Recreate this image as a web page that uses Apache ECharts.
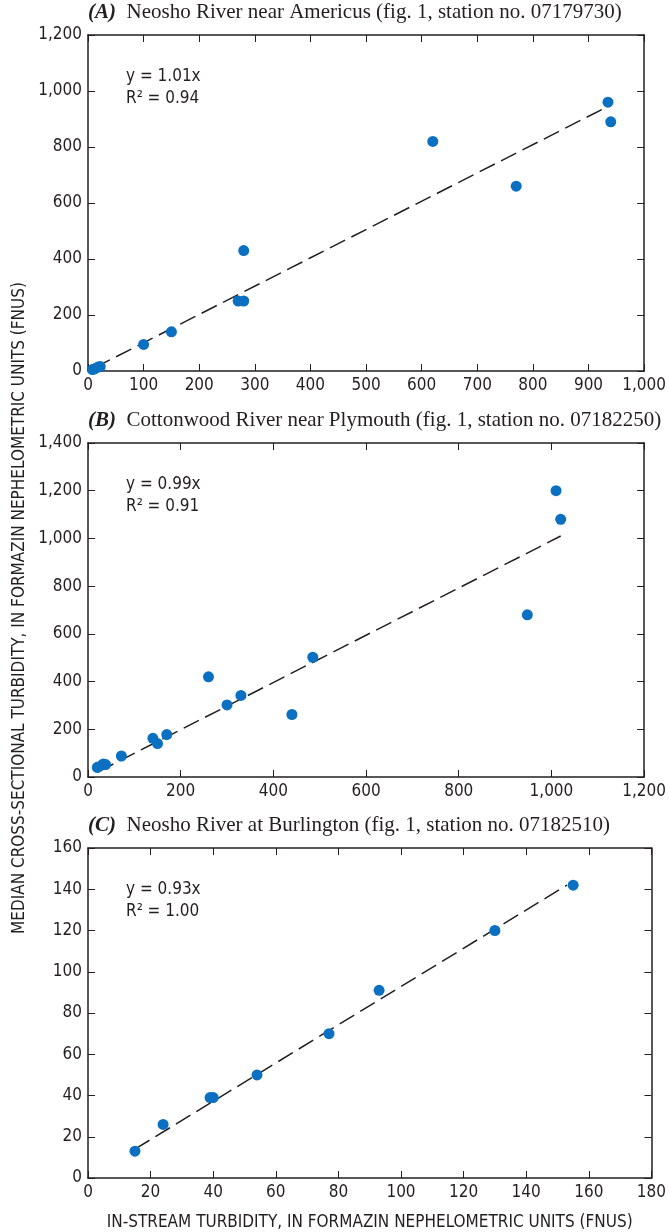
<!DOCTYPE html>
<html>
<head>
<meta charset="utf-8">
<script src="https://cdn.jsdelivr.net/npm/echarts@6/dist/echarts.min.js"></script>
<style>
  html, body { margin: 0; padding: 0; background: #fff; }
  #chart { width: 669px; height: 1232px; }
</style>
</head>
<body>
<div id="chart"></div>
<script>
// panel A - Neosho River near Americus
let pointsA = [
  [8, 5], [12, 8], [18, 14], [22, 16], [100, 95], [150, 140],
  [270, 250], [280, 250], [280, 430], [620, 820], [770, 660],
  [935, 960], [940, 890]
]
let fitA = [[12, 12], [940, 950]]

// panel B - Cottonwood River near Plymouth
let pointsB = [
  [20, 40], [22, 42], [33, 55], [38, 52], [72, 88], [140, 162],
  [150, 140], [170, 178], [260, 420], [300, 302], [330, 342],
  [440, 262], [485, 502], [948, 680], [1010, 1200], [1020, 1080]
]
let fitB = [[22, 22], [1020, 1010]]

// panel C - Neosho River at Burlington
let pointsC = [
  [15, 13], [24, 26], [39, 39], [40, 39], [54, 50], [77, 70],
  [93, 91], [130, 120], [155, 142]
]
let fitC = [[15, 14], [153, 142]]

let titles = [
  ['(A)', 'Neosho River near Americus (fig. 1, station no. 07179730)'],
  ['(B)', 'Cottonwood River near Plymouth (fig. 1, station no. 07182250)'],
  ['(C)', 'Neosho River at Burlington (fig. 1, station no. 07182510)']
]
let equations = [
  ['y = 1.01x', 'R² = 0.94'],
  ['y = 0.99x', 'R² = 0.91'],
  ['y = 0.93x', 'R² = 1.00']
]
let xRanges = [[0, 1000, 100], [0, 1200, 200], [0, 180, 20]]
let yRanges = [[0, 1200, 200], [0, 1400, 200], [0, 160, 20]]

let yTitle = 'MEDIAN CROSS-SECTIONAL TURBIDITY, IN FORMAZIN NEPHELOMETRIC UNITS (FNUS)'
let xTitle = 'IN-STREAM TURBIDITY, IN FORMAZIN NEPHELOMETRIC UNITS (FNUS)'

let narrow = "'Liberation Sans Narrow', 'DejaVu Sans Condensed', sans-serif"
  , serif = "'Liberation Serif', 'DejaVu Serif', serif"
  , dotColor = '#0b70c2'
  , grids = [
    { left: 88, right: 17, top: 35, height: 336 },
    { left: 88, right: 17, top: 443, height: 334 },
    { left: 88, right: 17, top: 848, height: 336 }
  ]

function fmt(v) {
  return String(v).replace(/\B(?=(\d{3})+(?!\d))/g, ',')
}

function axisBase(range, i, pos, withLabel) {
  return {
    type: 'value',
    gridIndex: i,
    position: pos,
    min: range[0],
    max: range[1],
    interval: range[2],
    splitLine: { show: false },
    axisLine: { show: true, onZero: false, lineStyle: { color: '#231f20', width: 1.5 } },
    axisTick: { show: true, inside: true, length: 7, lineStyle: { color: '#231f20', width: 1 } },
    axisLabel: {
      show: withLabel,
      formatter: fmt,
      color: '#231f20',
      fontFamily: narrow,
      fontSize: 17,
      margin: 6
    }
  }
}

let xAxes = [], yAxes = [], series = [], titleArr = [], graphics = []
let allPoints = [pointsA, pointsB, pointsC]
  , allFits = [fitA, fitB, fitC]

grids.forEach((g, i) => {
  xAxes.push(axisBase(xRanges[i], i, 'bottom', true))
  xAxes.push(axisBase(xRanges[i], i, 'top', false))
  yAxes.push(axisBase(yRanges[i], i, 'left', true))
  yAxes.push(axisBase(yRanges[i], i, 'right', false))

  series.push({
    type: 'line',
    xAxisIndex: i * 2,
    yAxisIndex: i * 2,
    data: allFits[i],
    symbol: 'none',
    silent: true,
    lineStyle: { color: '#231f20', width: 1.5, type: [17, 7] },
    z: 3
  })
  series.push({
    type: 'scatter',
    xAxisIndex: i * 2,
    yAxisIndex: i * 2,
    data: allPoints[i],
    symbol: 'circle',
    symbolSize: 11,
    itemStyle: { color: dotColor, opacity: 1 },
    z: 4
  })

  titleArr.push({
    text: `{b|${titles[i][0]}}  ${titles[i][1]}`,
    left: 88,
    top: g.top - 33,
    padding: 0,
    textStyle: {
      fontFamily: serif,
      fontWeight: 'normal',
      fontSize: 21,
      color: '#231f20',
      rich: {
        b: { fontFamily: serif, fontWeight: 'bold', fontStyle: 'italic', fontSize: 21, color: '#231f20' }
      }
    }
  })

  graphics.push({
    type: 'text',
    left: 126,
    top: g.top + 31,
    style: {
      text: equations[i].join('\n'),
      font: `17px ${narrow}`,
      lineHeight: 22,
      fill: '#231f20'
    }
  })
})

// the x axis name only on the bottom panel
xAxes[4].name = xTitle
xAxes[4].nameLocation = 'middle'
xAxes[4].nameGap = 36
xAxes[4].nameTextStyle = { fontFamily: narrow, fontSize: 17, color: '#231f20' }

graphics.push({
  type: 'text',
  x: 20,
  y: 608,
  rotation: Math.PI / 2,
  style: {
    text: yTitle,
    font: `17px ${narrow}`,
    fill: '#231f20',
    align: 'center',
    verticalAlign: 'middle'
  }
})

let chart = echarts.init(document.getElementById('chart'), null, { renderer: 'canvas' })
chart.setOption({
  animation: false,
  backgroundColor: '#fff',
  title: titleArr,
  grid: grids,
  xAxis: xAxes,
  yAxis: yAxes,
  series: series,
  graphic: graphics
})
</script>
</body>
</html>
